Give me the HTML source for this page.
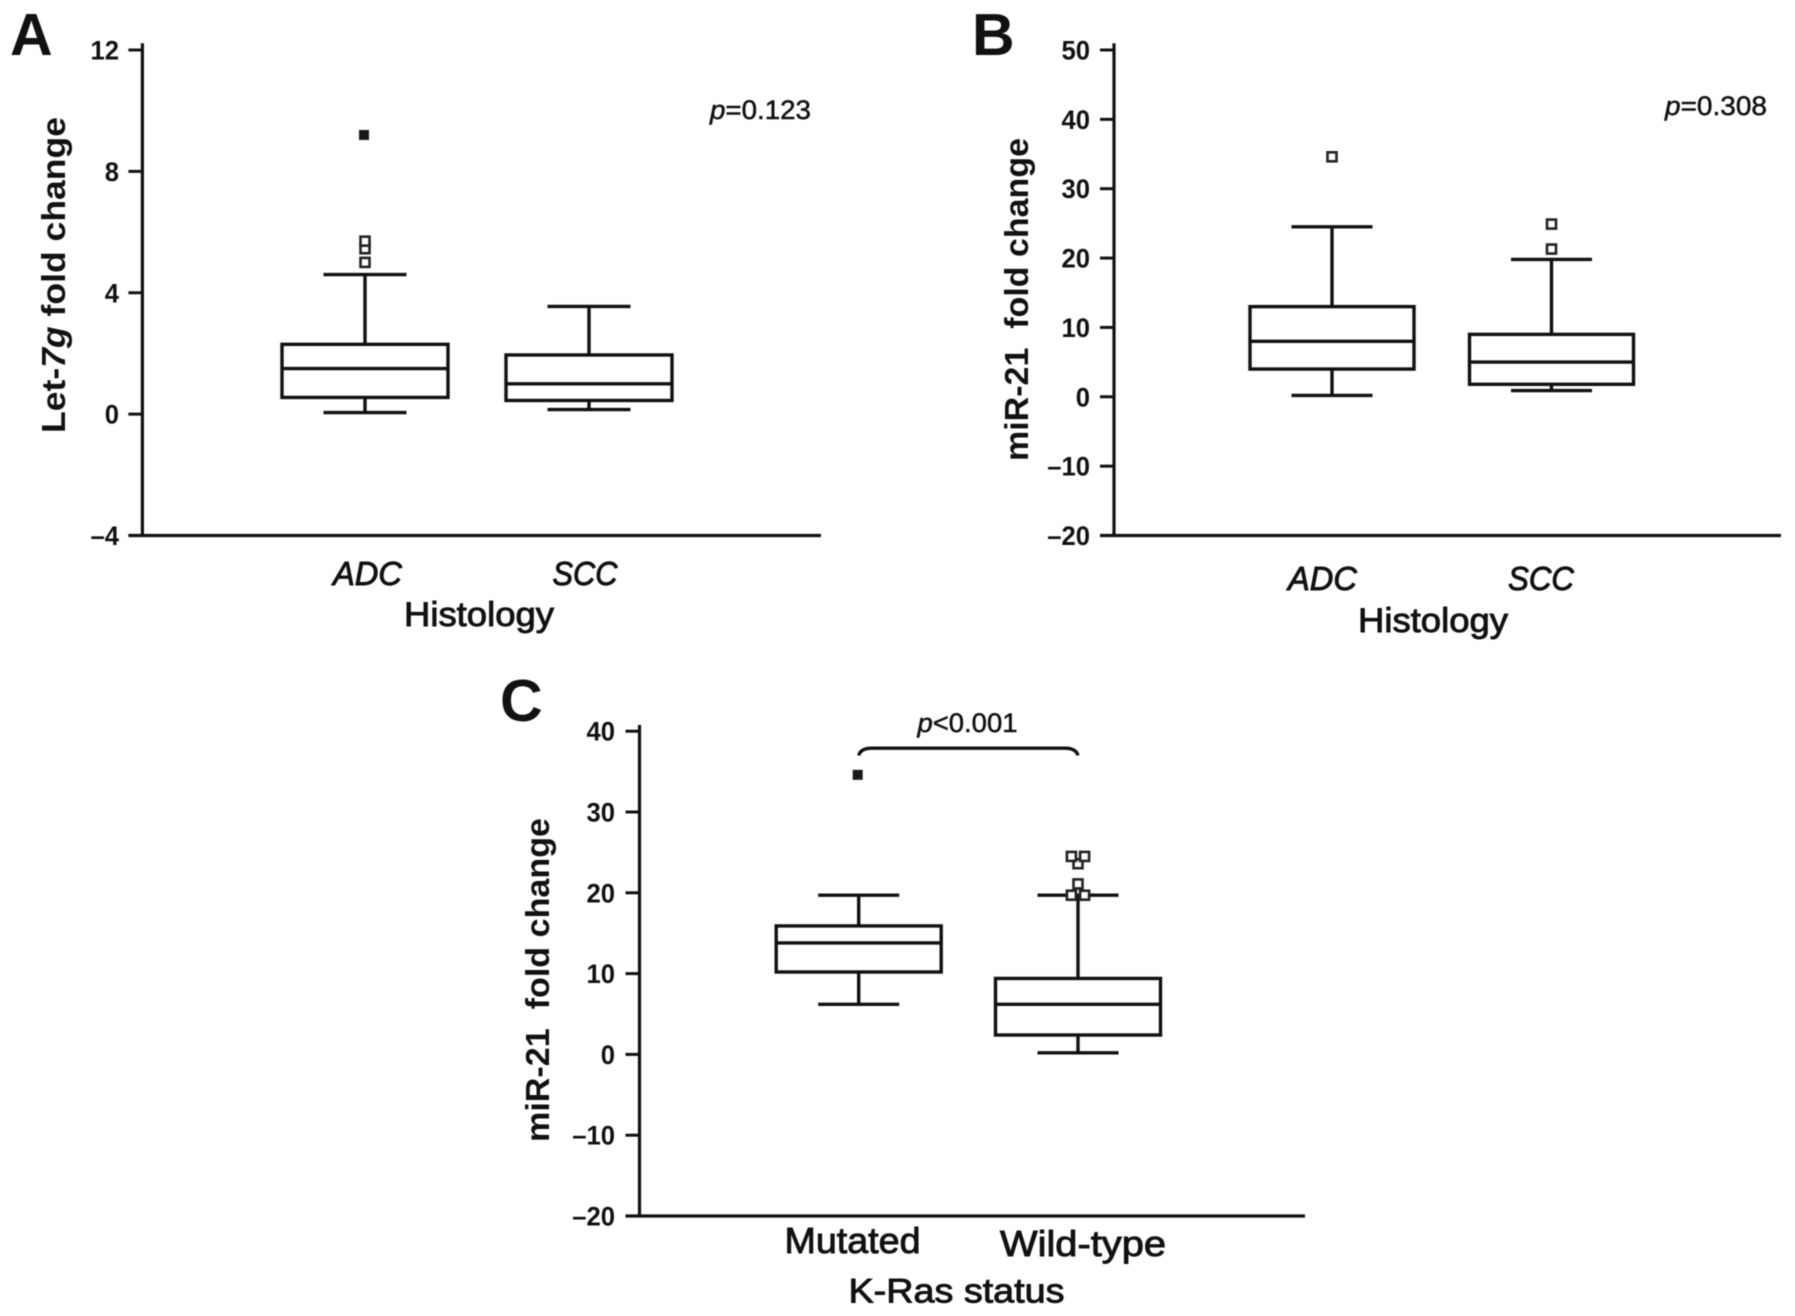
<!DOCTYPE html>
<html lang="en">
<head>
<meta charset="utf-8">
<title>Fold change box plots</title>
<style>
html,body{margin:0;padding:0;background:#fff;}
body{width:1795px;height:1316px;overflow:hidden;}
svg{display:block;filter:blur(.45px);}
text{font-family:"Liberation Sans","DejaVu Sans",sans-serif;fill:#111;white-space:pre;}
.panel{font-size:59px;font-weight:bold;}
.tick{font-size:27px;font-weight:bold;text-anchor:end;}
.ytitle{font-size:33px;font-weight:bold;}
.cat{font-size:33px;font-style:italic;stroke:#111;stroke-width:.9px;}
.xtitle{font-size:34px;stroke:#111;stroke-width:.9px;}
.pval{font-size:27px;stroke:#111;stroke-width:.5px;}
</style>
</head>
<body>
<svg id="figure" xmlns="http://www.w3.org/2000/svg" width="1795" height="1316" viewBox="0 0 1795 1316">
  <rect width="1795" height="1316" fill="#fff"/>

  <text class="panel" x="10" y="55">A</text>
  <text class="panel" x="972" y="55">B</text>
  <text class="panel" x="500" y="721">C</text>

  <text class="ytitle" transform="translate(65,433) rotate(-90)" textLength="316" lengthAdjust="spacingAndGlyphs">Let-<tspan font-style="italic">7g</tspan> fold change</text>
  <text class="ytitle" transform="translate(1028,461) rotate(-90)" textLength="323" lengthAdjust="spacingAndGlyphs">miR-21  fold change</text>
  <text class="ytitle" transform="translate(549,1142) rotate(-90)" textLength="324" lengthAdjust="spacingAndGlyphs">miR-21  fold change</text>

  <text class="xtitle" x="404" y="626" textLength="150" lengthAdjust="spacingAndGlyphs">Histology</text>
  <text class="xtitle" x="1358" y="632" textLength="150" lengthAdjust="spacingAndGlyphs">Histology</text>
  <text class="xtitle" x="848.5" y="1302.5" textLength="216" lengthAdjust="spacingAndGlyphs">K-Ras status</text>

  <text class="cat" x="333" y="585" textLength="69" lengthAdjust="spacingAndGlyphs">ADC</text>
  <text class="cat" x="552.5" y="585" textLength="65" lengthAdjust="spacingAndGlyphs">SCC</text>
  <text class="cat" x="1288" y="590" textLength="69" lengthAdjust="spacingAndGlyphs">ADC</text>
  <text class="cat" x="1508" y="590" textLength="66" lengthAdjust="spacingAndGlyphs">SCC</text>
  <text class="cat" x="784.5" y="1253" textLength="136" lengthAdjust="spacingAndGlyphs" style="font-style:normal;font-size:36px">Mutated</text>
  <text class="cat" x="1000" y="1256" textLength="166" lengthAdjust="spacingAndGlyphs" style="font-style:normal;font-size:36px">Wild-type</text>

  <text class="pval" x="710" y="119" textLength="101" lengthAdjust="spacingAndGlyphs"><tspan font-style="italic">p</tspan>=0.123</text>
  <text class="pval" x="1665" y="115" textLength="102" lengthAdjust="spacingAndGlyphs"><tspan font-style="italic">p</tspan>=0.308</text>
  <text class="pval" x="917.5" y="732" textLength="100" lengthAdjust="spacingAndGlyphs"><tspan font-style="italic">p</tspan>&lt;0.001</text>
</svg>
<script>
// Panel A: Let-7g by histology
const aTicks = [12, 8, 4, 0, -4];
const aCategories = ['ADC', 'SCC'];
const aWhiskerLow = [0.05, 0.15];
const aQ1 = [0.55, 0.45];
const aMedian = [1.5, 1.0];
const aQ3 = [2.3, 1.95];
const aWhiskerHigh = [4.6, 3.55];
const aOpenOutliers = [[5.0, 5.45, 5.7], []];
const aFilledOutliers = [[9.2], []];

// Panel B: miR-21 by histology
const bTicks = [50, 40, 30, 20, 10, 0, -10, -20];
const bCategories = ['ADC', 'SCC'];
const bWhiskerLow = [0.2, 0.9];
const bQ1 = [4.0, 1.8];
const bMedian = [8.0, 5.0];
const bQ3 = [13.0, 9.0];
const bWhiskerHigh = [24.5, 19.8];
const bOpenOutliers = [[34.6], [21.3, 24.9]];
const bFilledOutliers = [[], []];

// Panel C: miR-21 by K-Ras status
const cTicks = [40, 30, 20, 10, 0, -10, -20];
const cCategories = ['Mutated', 'Wild-type'];
const cWhiskerLow = [6.2, 0.2];
const cQ1 = [10.2, 2.4];
const cMedian = [13.8, 6.2];
const cQ3 = [15.9, 9.4];
const cWhiskerHigh = [19.7, 19.7];
const cOpenOutliers = [[], [19.7, 19.7, 21.1, 23.6, 24.5, 24.5]];
const cFilledOutliers = [[34.6], []];

const SVGNS = 'http://www.w3.org/2000/svg';
const fig = document.getElementById('figure');
const INK = '#111';
const LINE = 3.4;

function shape(tag, attrs) {
  const el = document.createElementNS(SVGNS, tag);
  for (const k in attrs) el.setAttribute(k, attrs[k]);
  return el;
}
function line(x1, y1, x2, y2, w) {
  return shape('line', {x1: x1, y1: y1, x2: x2, y2: y2, stroke: INK, 'stroke-width': w || LINE});
}
function slug(s) { return s.toLowerCase().replace(/[^a-z0-9]+/g, '-'); }

function linearScale(d0, d1, r0, r1) {
  return function (v) { return r0 + (v - d0) * (r1 - r0) / (d1 - d0); };
}
function bandScale(first, second) {
  return function (i) { return first + i * (second - first); };
}

function drawPanel(id, ticks, cats, lo, q1, med, q3, hi, open, filled, g) {
  const yMax = ticks[0];
  const yMin = ticks[ticks.length - 1];
  const y = linearScale(yMin, yMax, g.yBottom, g.yTop);
  const x = bandScale(g.c0, g.c1);

  const axisG = shape('g', {});
  
  
  fig.appendChild(axisG);

  const yAxis = line(g.axisX, g.axisTop, g.axisX, y(yMin) + 1.5, 3.2);
  
  
  axisG.appendChild(yAxis);

  const xAxis = line(g.axisX - 14, y(yMin), g.axisRight, y(yMin), 3.2);
  
  
  axisG.appendChild(xAxis);

  ticks.forEach(function (t) {
    const tk = line(g.axisX - 14, y(t), g.axisX, y(t), 3);
    
    
    axisG.appendChild(tk);

    const lb = shape('text', {class: 'tick', x: g.tickRight, y: y(t) + 9.5});
    lb.textContent = String(t).replace('-', '\u2013');
    
    
    axisG.appendChild(lb);
    lb.setAttribute('textLength', lb.getComputedTextLength() * 0.95);
    lb.setAttribute('lengthAdjust', 'spacingAndGlyphs');
  });

  cats.forEach(function (cat, i) {
    const cx = x(i);
    const box = shape('g', {});
    
    
    fig.appendChild(box);

    const wu = line(cx, y(hi[i]), cx, y(q3[i]));
    
    
    box.appendChild(wu);

    const wl = line(cx, y(q1[i]), cx, y(lo[i]));
    
    
    box.appendChild(wl);

    const cu = line(cx - g.capHalf, y(hi[i]), cx + g.capHalf, y(hi[i]));
    
    
    box.appendChild(cu);

    const cl = line(cx - g.capHalf, y(lo[i]), cx + g.capHalf, y(lo[i]));
    
    
    box.appendChild(cl);

    const r = shape('rect', {x: cx - g.boxHalf, y: y(q3[i]), width: 2 * g.boxHalf, height: y(q1[i]) - y(q3[i]), fill: 'none', stroke: INK, 'stroke-width': LINE});
    
    
    box.appendChild(r);

    const m = line(cx - g.boxHalf, y(med[i]), cx + g.boxHalf, y(med[i]));
    
    
    box.appendChild(m);

    // tied values sit side by side
    open[i].forEach(function (v, j, arr) {
      const ties = arr.filter(function (o) { return o === v; }).length;
      const rank = arr.slice(0, j).filter(function (o) { return o === v; }).length;
      const dx = ties > 1 ? (rank === 0 ? -g.spread : g.spread) : 0;
      const o = shape('rect', {x: cx + dx - 4.5, y: y(v) - 4.5, width: 9, height: 9, fill: '#fff', stroke: '#222', 'stroke-width': 2.6});
      
      
      box.appendChild(o);
    });

    filled[i].forEach(function (v) {
      const f = shape('rect', {x: cx - 1 - 5, y: y(v) - 5, width: 10, height: 10, fill: '#1a1a1a'});
      
      
      box.appendChild(f);
    });
  });

  return {x: x, y: y};
}

drawPanel('a', aTicks, aCategories, aWhiskerLow, aQ1, aMedian, aQ3, aWhiskerHigh, aOpenOutliers, aFilledOutliers,
  {yTop: 50, yBottom: 535.5, c0: 365, c1: 589, axisX: 142.4, axisTop: 43.3, axisRight: 821, tickRight: 119, boxHalf: 83, capHalf: 41.5, spread: 6.6});
drawPanel('b', bTicks, bCategories, bWhiskerLow, bQ1, bMedian, bQ3, bWhiskerHigh, bOpenOutliers, bFilledOutliers,
  {yTop: 50, yBottom: 535.5, c0: 1332, c1: 1551.5, axisX: 1114, axisTop: 43.3, axisRight: 1781, tickRight: 1090, boxHalf: 82, capHalf: 40.5, spread: 6.6});
const panelC = drawPanel('c', cTicks, cCategories, cWhiskerLow, cQ1, cMedian, cQ3, cWhiskerHigh, cOpenOutliers, cFilledOutliers,
  {yTop: 731.2, yBottom: 1216, c0: 858.7, c1: 1078, axisX: 639.5, axisTop: 725, axisRight: 1305, tickRight: 615, boxHalf: 82.5, capHalf: 40.5, spread: 6.6});

const bxL = panelC.x(0);
const bxR = panelC.x(1);
const byTop = panelC.y(37.9);
const byEnd = panelC.y(37.0);
const bracket = shape('path', {
  d: 'M' + bxL + ' ' + byEnd + ' Q' + (bxL + 2) + ' ' + byTop + ' ' + (bxL + 13) + ' ' + byTop +
     ' L' + (bxR - 13) + ' ' + byTop + ' Q' + (bxR - 2) + ' ' + byTop + ' ' + bxR + ' ' + byEnd,
  fill: 'none', stroke: INK, 'stroke-width': LINE
});


fig.appendChild(bracket);
</script>
</body>
</html>
